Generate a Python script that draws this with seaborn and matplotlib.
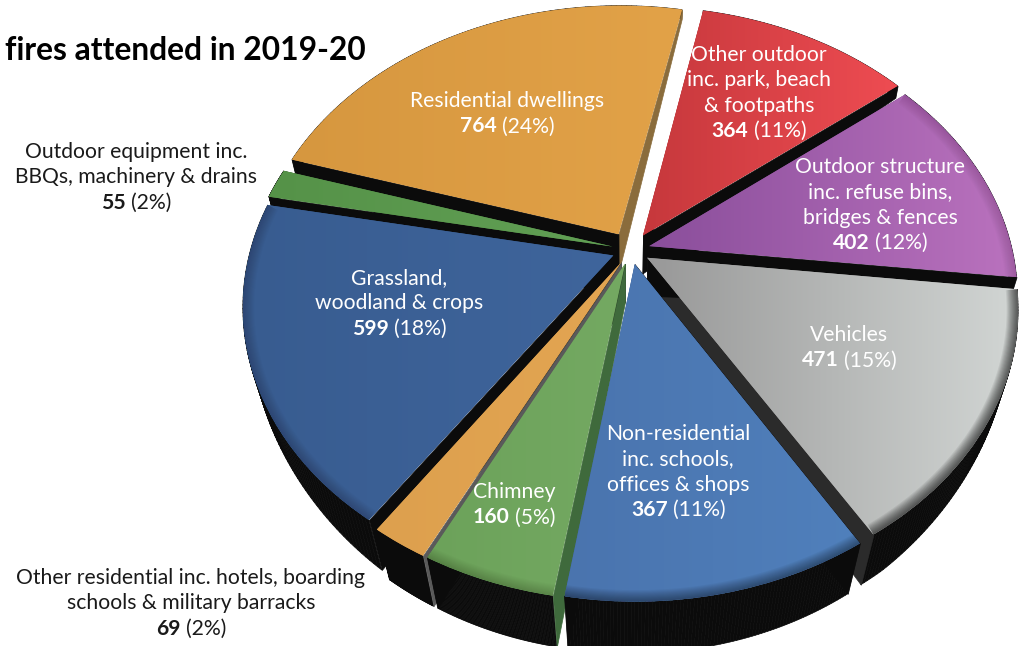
import numpy as np
import matplotlib
matplotlib.use("Agg")
import matplotlib.pyplot as plt
import matplotlib.transforms as mtransforms
from matplotlib.collections import PolyCollection
import seaborn as sns

# Fire counts per category, clockwise from the residential slice
categories = ["Residential dwellings", "Other outdoor", "Outdoor structure", "Vehicles",
              "Non-residential", "Chimney", "Other residential", "Grassland", "Outdoor equipment"]
counts = [764, 364, 402, 471, 367, 160, 69, 599, 55]
percents = [24, 11, 12, 15, 11, 5, 2, 18, 2]

label_lines = [
    ["Residential dwellings"],
    ["Other outdoor", "inc. park, beach", "& footpaths"],
    ["Outdoor structure", "inc. refuse bins,", "bridges & fences"],
    ["Vehicles"],
    ["Non-residential", "inc. schools,", "offices & shops"],
    ["Chimney"],
    ["Other residential inc. hotels, boarding", "schools & military barracks"],
    ["Grassland,", "woodland & crops"],
    ["Outdoor equipment inc.", "BBQs, machinery & drains"],
]
title_text = "fires attended in 2019-20"

# Label anchors: centre x and the y of the first line, in figure pixels
label_x = [507, 759, 880, 849, 678, 514, 191, 399, 136]
label_y = [101, 55, 167, 335, 434, 492, 578, 278, 152]
label_colors = ["white"] * 6 + ["#1a1a1a", "white", "#1a1a1a"]
line_step = 25.4

# Slice styling
explode = [0.065, 0.06, 0.05, 0.05, 0.05, 0.05, 0.05, 0.05, 0.05]
shade_left = ["#D6973F", "#C6383C", "#8A4E9B", "#989898", "#4A74AE", "#6CA25A", "#DDA04E", "#385C90", "#559248"]
shade_right = ["#E2A248", "#EE4C52", "#BA72BE", "#D2D6D4", "#5080BC", "#74A962", "#E3A552", "#3F659C", "#62A055"]
wall_cw_start = ["#0b0b0b", "#0b0b0b", "#0b0b0b", "#0b0b0b", "#0b0b0b", "#3F6A3C", "#5a5a5a", "#0b0b0b", "#0b0b0b"]
wall_cw_end = ["#8A6C3C", "#0b0b0b", "#0b0b0b", "#2B2B2B", "#0b0b0b", "#0b0b0b", "#0b0b0b", "#0b0b0b", "#0b0b0b"]
rim_shade = [0.0, 0.0, 0.012, 0.07, 0.04, 0.015, 0.0, 0.015, 0.0]

sns.set_theme(style="white")
plt.rcParams["font.family"] = ["Lato", "DejaVu Sans"]


class TiltedPlane(mtransforms.Transform):
    """Perspective view of the unit pie plane, giving figure pixels."""
    input_dims = 2
    output_dims = 2
    has_inverse = False
    cx, cy, rx, ry, k = 631.0, 250.0, 382.0, 287.6, 0.183

    def transform_non_affine(self, values):
        values = np.asarray(values, dtype=float)
        w = 1 + self.k * values[:, 1]
        return np.column_stack((self.cx + self.rx * values[:, 0] / w,
                                self.cy - self.ry * values[:, 1] / w))


def extrude(points, depth=None):
    """Push pixel points down the pie's height, converging on a low vanishing point."""
    if depth is None:
        depth = np.interp(points[:, 1], [0, 150, 280, 520, 650], [9, 14, 18, 50, 52])
    dx = (625 - points[:, 0]) / (1520 - points[:, 1]) * depth
    return np.column_stack((points[:, 0] + dx, points[:, 1] + depth))


fig = plt.figure(figsize=(10.26, 6.46), dpi=100)
ax = fig.add_axes([0, 0, 1, 1])

wedges, _ = ax.pie(counts, explode=explode, startangle=163, counterclock=False, radius=0.95)
plane = TiltedPlane()

rims = []
for w in wedges:
    t = np.radians(np.linspace(w.theta1, w.theta2, 90))
    rim_unit = np.column_stack((w.center[0] + w.r * np.cos(t), w.center[1] + w.r * np.sin(t)))
    rims.append((plane.transform(rim_unit), plane.transform(np.array([w.center]))[0]))

# Back slices first so nearer slices hide what lies behind them
order = np.argsort([rim[:, 1].mean() for rim, _ in rims])
for layer, i in enumerate(order):
    w, (rim, apex) = wedges[i], rims[i]
    base = 10 * layer + 2
    low_rim = extrude(rim)
    low_apex = extrude(apex[None, :], depth=38.0)[0]

    rim_quads = [[rim[j], rim[j + 1], low_rim[j + 1], low_rim[j]] for j in range(len(rim) - 1)]
    ax.add_collection(PolyCollection(rim_quads, facecolors="#0b0b0b", edgecolors="#0b0b0b",
                                     linewidths=0.5, zorder=base))
    end_quad = [apex, rim[0], low_rim[0], low_apex]
    start_quad = [apex, rim[-1], low_rim[-1], low_apex]
    ax.add_collection(PolyCollection([end_quad], facecolors=wall_cw_end[i], edgecolors=wall_cw_end[i],
                                     linewidths=0.5, zorder=base + 1))
    ax.add_collection(PolyCollection([start_quad], facecolors=wall_cw_start[i], edgecolors=wall_cw_start[i],
                                     linewidths=0.5, zorder=base + 1))

    # Top face: the pie wedge seen through the tilted plane, filled with a left-right gradient
    w.set_transform(plane + ax.transData)
    w.set_facecolor(shade_left[i])
    w.set_edgecolor("none")
    w.set_zorder(base + 2)
    cmap = sns.blend_palette([shade_left[i], shade_right[i]], n_colors=256, as_cmap=True)
    xs = np.r_[rim[:, 0], apex[0]]
    ys = np.r_[rim[:, 1], apex[1]]
    img = ax.imshow(np.linspace(0, 1, 256)[None, :], cmap=cmap, aspect="auto", vmin=0, vmax=1,
                    extent=(xs.min(), xs.max(), ys.max(), ys.min()), zorder=base + 3)
    img.set_clip_path(w)

    # Soft darkening along the curved edge
    if rim_shade[i] > 0:
        for width in np.arange(1.5, 18, 1.5):
            line, = ax.plot(rim[:, 0], rim[:, 1], color="black", lw=width, alpha=rim_shade[i],
                            zorder=base + 4, solid_capstyle="butt")
            line.set_clip_path(w)

ax.set_xlim(0, 1026)
ax.set_ylim(646, 0)
ax.set_aspect("auto")
ax.axis("off")

fig.canvas.draw()
renderer = fig.canvas.get_renderer()
FONT_SIZE = 15.2


def value_line(x, y, count, pct, color):
    """Centre a bold count followed by its regular-weight share on one line."""
    bold = ax.text(0, y, str(count), fontsize=FONT_SIZE, fontweight="bold", color=color,
                   va="center", ha="left", zorder=500)
    rest = ax.text(0, y, f"({pct}%)", fontsize=FONT_SIZE, color=color, va="center", ha="left", zorder=500)
    gap = 5
    wb = bold.get_window_extent(renderer).width
    wr = rest.get_window_extent(renderer).width
    left = x - (wb + gap + wr) / 2
    bold.set_x(left)
    rest.set_x(left + wb + gap)


for i, lines in enumerate(label_lines):
    for n, line in enumerate(lines):
        ax.text(label_x[i], label_y[i] + n * line_step, line, fontsize=FONT_SIZE, color=label_colors[i],
                ha="center", va="center", zorder=500)
    value_line(label_x[i], label_y[i] + len(lines) * line_step, counts[i], percents[i], label_colors[i])

ax.text(5, 51, title_text, fontsize=22.9, fontweight="bold", color="black", ha="left", va="center", zorder=500)

fig.savefig("out.png", dpi=100)
